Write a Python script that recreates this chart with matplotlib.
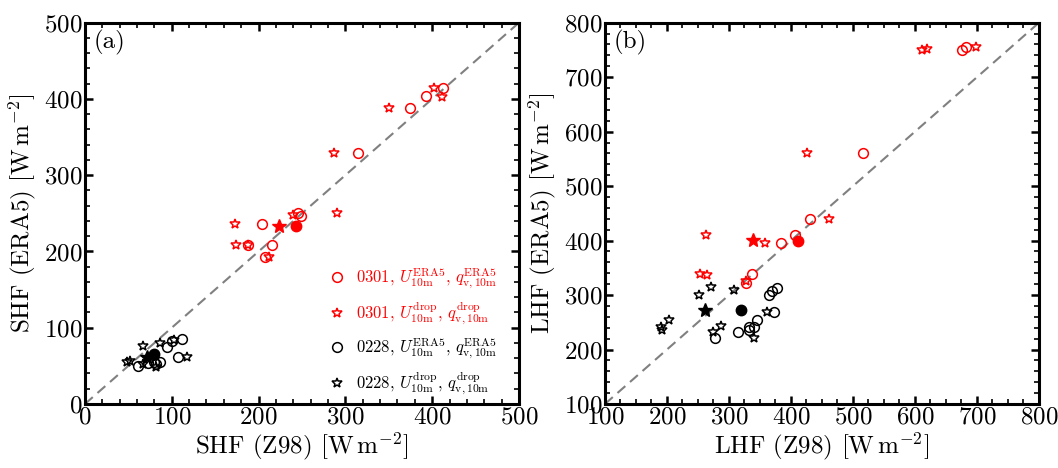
import matplotlib
matplotlib.use("Agg")
import matplotlib.pyplot as plt
from matplotlib.ticker import MultipleLocator
from matplotlib.lines import Line2D

plt.rcParams.update({
    'font.family': 'serif',
    'font.serif': ['cmr10'],
    'mathtext.fontset': 'cm',
    'axes.formatter.use_mathtext': True,
    'axes.unicode_minus': False,
})

# ---------------- Panel (a): SHF ----------------
a_0301_era5_x = [393, 412, 375, 315, 204, 188, 215, 207, 246, 249]
a_0301_era5_y = [404, 415, 388, 329, 236, 209, 208, 193, 250, 246]
a_0301_drop_x = [350, 402, 411, 287, 290, 173, 174, 188, 212, 240]
a_0301_drop_y = [388, 414, 403, 329, 251, 236, 208, 208, 193, 248]
a_0301_mean_era5 = (243, 234)
a_0301_mean_drop = (224, 234)

a_0228_era5_x = [112, 100, 95, 107, 61, 73, 79, 86, 82]
a_0228_era5_y = [85, 82, 75, 62, 50, 54, 55, 55, 52]
a_0228_drop_x = [67, 87, 103, 118, 48, 52, 67, 82, 71]
a_0228_drop_y = [76, 80, 84, 62, 55, 57, 53, 48, 60]
a_0228_mean_era5 = (79, 65)
a_0228_mean_drop = (72, 62)

# ---------------- Panel (b): LHF ----------------
b_0301_era5_x = [676, 682, 516, 431, 407, 384, 328, 337]
b_0301_era5_y = [750, 755, 560, 440, 411, 396, 323, 338]
b_0301_drop_x = [612, 620, 698, 426, 462, 263, 358, 253, 264, 328]
b_0301_drop_y = [750, 751, 755, 560, 440, 411, 396, 339, 336, 325]
b_0301_mean_era5 = (411, 400)
b_0301_mean_drop = (338, 401)

b_0228_era5_x = [365, 369, 377, 373, 277, 314, 332, 333, 341, 346]
b_0228_era5_y = [300, 308, 313, 268, 222, 232, 235, 242, 241, 254]
b_0228_drop_x = [191, 192, 203, 252, 271, 308, 275, 287, 362, 340]
b_0228_drop_y = [241, 235, 255, 300, 314, 309, 232, 243, 269, 222]
b_0228_mean_era5 = (320, 273)
b_0228_mean_drop = (261, 273)

labels = [r'0301, $U_{\rm 10m}^{\rm ERA5}$, $q_{\rm v,10m}^{\rm ERA5}$',
          r'0301, $U_{\rm 10m}^{\rm drop}$, $q_{\rm v,10m}^{\rm drop}$',
          r'0228, $U_{\rm 10m}^{\rm ERA5}$, $q_{\rm v,10m}^{\rm ERA5}$',
          r'0228, $U_{\rm 10m}^{\rm drop}$, $q_{\rm v,10m}^{\rm drop}$']

fig = plt.figure(figsize=(10.58, 4.68), dpi=100)
ax1 = fig.add_axes([0.0803, 0.1368, 0.4102, 0.8147])
ax2 = fig.add_axes([0.5718, 0.1368, 0.4102, 0.8147])

circ_kw = dict(ls='none', marker='o', mfc='none', ms=7, mew=1.1)
star_kw = dict(ls='none', marker='*', mfc='none', ms=7.5, mew=1.1)


def draw(ax, e1x, e1y, d1x, d1y, m1e, m1d, e2x, e2y, d2x, d2y, m2e, m2d, lim):
    ax.plot(lim, lim, ls='--', color='gray', lw=1.5, dashes=(5, 3), zorder=1)
    ax.plot(e1x, e1y, mec='red', **circ_kw)
    ax.plot(d1x, d1y, mec='red', **star_kw)
    ax.plot(e2x, e2y, mec='black', **circ_kw)
    ax.plot(d2x, d2y, mec='black', **star_kw)
    ax.plot([m1e[0]], [m1e[1]], 'o', color='red', ms=7.5)
    ax.plot([m1d[0]], [m1d[1]], '*', color='red', ms=10)
    ax.plot([m2e[0]], [m2e[1]], 'o', color='black', ms=7.5)
    ax.plot([m2d[0]], [m2d[1]], '*', color='black', ms=10)
    ax.set_xlim(lim)
    ax.set_ylim(lim)
    for s in ax.spines.values():
        s.set_linewidth(2.2)
    ax.tick_params(which='both', direction='in', top=True, right=True, labelsize=18)
    ax.tick_params(which='major', length=6, width=1.8, pad=2)
    ax.tick_params(which='minor', length=3.5, width=1.2)


draw(ax1, a_0301_era5_x, a_0301_era5_y, a_0301_drop_x, a_0301_drop_y,
     a_0301_mean_era5, a_0301_mean_drop,
     a_0228_era5_x, a_0228_era5_y, a_0228_drop_x, a_0228_drop_y,
     a_0228_mean_era5, a_0228_mean_drop, [0, 500])
draw(ax2, b_0301_era5_x, b_0301_era5_y, b_0301_drop_x, b_0301_drop_y,
     b_0301_mean_era5, b_0301_mean_drop,
     b_0228_era5_x, b_0228_era5_y, b_0228_drop_x, b_0228_drop_y,
     b_0228_mean_era5, b_0228_mean_drop, [100, 800])

ax1.xaxis.set_major_locator(MultipleLocator(100))
ax1.xaxis.set_minor_locator(MultipleLocator(20))
ax1.yaxis.set_major_locator(MultipleLocator(100))
ax1.yaxis.set_minor_locator(MultipleLocator(20))
ax2.xaxis.set_major_locator(MultipleLocator(100))
ax2.xaxis.set_minor_locator(MultipleLocator(25))
ax2.yaxis.set_major_locator(MultipleLocator(100))
ax2.yaxis.set_minor_locator(MultipleLocator(20))

ax1.set_xlabel(r'SHF (Z98) [$\mathrm{W\,m^{-2}}$]', fontsize=18, labelpad=1)
ax1.set_ylabel(r'SHF (ERA5) [$\mathrm{W\,m^{-2}}$]', fontsize=18, labelpad=4)
ax2.set_xlabel(r'LHF (Z98) [$\mathrm{W\,m^{-2}}$]', fontsize=18, labelpad=1)
ax2.set_ylabel(r'LHF (ERA5) [$\mathrm{W\,m^{-2}}$]', fontsize=18, labelpad=4)

ax1.text(0.02, 0.98, '(a)', transform=ax1.transAxes, fontsize=18, va='top', ha='left')
ax2.text(0.02, 0.98, '(b)', transform=ax2.transAxes, fontsize=18, va='top', ha='left')

handles = [Line2D([], [], mec='red', **circ_kw),
           Line2D([], [], mec='red', **star_kw),
           Line2D([], [], mec='black', **circ_kw),
           Line2D([], [], mec='black', **star_kw)]
leg = ax1.legend(handles, labels, loc='upper left', bbox_to_anchor=(0.545, 0.38),
                 frameon=False, fontsize=12, handlelength=1.1, handletextpad=0.6,
                 labelspacing=0.52, borderaxespad=0)
for t, c in zip(leg.get_texts(), ['red', 'red', 'black', 'black']):
    t.set_color(c)

fig.savefig('out.png', dpi=100)
